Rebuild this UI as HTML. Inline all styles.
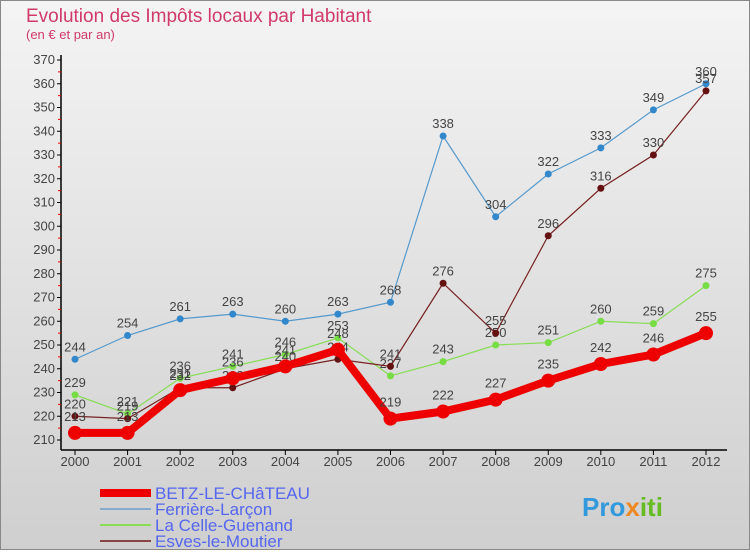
<!DOCTYPE html>
<html><head><meta charset="utf-8"><style>
body{margin:0;width:750px;height:550px;overflow:hidden;font-family:"Liberation Sans",sans-serif}
</style></head><body>
<svg width="750" height="550" xmlns="http://www.w3.org/2000/svg">
<defs><linearGradient id="bg" x1="0" y1="0" x2="0" y2="1"><stop offset="0" stop-color="#f4f4f4"/><stop offset="1" stop-color="#cfcfcf"/></linearGradient></defs>
<rect x="0.5" y="0.5" width="749" height="549" fill="url(#bg)" stroke="#888"/>
<text x="26" y="22" font-size="19" fill="#d03a6a" font-weight="normal">Evolution des Impôts locaux par Habitant</text>
<text x="26" y="39" font-size="13" fill="#d03a6a">(en € et par an)</text>
<g id="axes"></g><g id="plot"></g><g id="legend"></g>
<text x="582" y="516" font-size="26" font-weight="bold" fill="#3399dd">Pro<tspan fill="#ee8822">x</tspan><tspan fill="#66bb22">iti</tspan></text>
</svg>
<script>
const years=["2000","2001","2002","2003","2004","2005","2006","2007","2008","2009","2010","2011","2012"];
const yTicks=[210,220,230,240,250,260,270,280,290,300,310,320,330,340,350,360,370];
const betz=[213,213,231,236,241,248,219,222,227,235,242,246,255];
const ferriere=[244,254,261,263,260,263,268,338,304,322,333,349,360];
const lacelle=[229,221,236,241,246,253,237,243,250,251,260,259,275];
const esves=[220,219,232,232,240,244,241,276,255,296,316,330,357];
const NS="http://www.w3.org/2000/svg";
const X=i=>75+i*(706-75)/12, Y=v=>440-(v-210)*380/160;
function mk(t,a,p){const e=document.createElementNS(NS,t);for(const k in a)e.setAttribute(k,a[k]);p.appendChild(e);return e;}
const ax=document.getElementById('axes');
let l=mk('line',{x1:61,y1:55,x2:61,y2:450,stroke:'#000','stroke-width':1.5},ax);


l=mk('line',{x1:61,y1:450,x2:727,y2:450,stroke:'#000','stroke-width':1.5},ax);


yTicks.forEach((v,i)=>{
 mk('line',{x1:57,y1:Y(v),x2:61,y2:Y(v),stroke:'#000'},ax);
 if(i<yTicks.length-1) mk('line',{x1:58,y1:Y(v+5),x2:61,y2:Y(v+5),stroke:'#e00'},ax);
 const t=mk('text',{x:55,y:Y(v)+4,'font-size':13,'text-anchor':'end',fill:'#444'},ax);t.textContent=v;
 
 
});
years.forEach((y,i)=>{
 mk('line',{x1:X(i),y1:450,x2:X(i),y2:455,stroke:'#000'},ax);
 const t=mk('text',{x:X(i),y:466,'font-size':13,'text-anchor':'middle',fill:'#444'},ax);t.textContent=y;
 
 
});
const pl=document.getElementById('plot');
const series=[
 {n:'ferriere',d:ferriere,c:'#5599cc',w:1.2,r:3.5,f:'#3388cc'},
 {n:'lacelle',d:lacelle,c:'#88dd55',w:1.2,r:3.5,f:'#77dd44'},
 {n:'esves',d:esves,c:'#772222',w:1.2,r:3.5,f:'#661111'},
 {n:'betz',d:betz,c:'#ee0000',w:8,r:7,f:'#ee0000'}];
series.forEach(s=>{
 const g=mk('g',{},pl);
 
 
 const p=mk('polyline',{points:s.d.map((v,i)=>X(i)+','+Y(v)).join(' '),fill:'none',stroke:s.c,'stroke-width':s.w},g);
 
 
 s.d.forEach((v,i)=>{
  const c=mk('circle',{cx:X(i),cy:Y(v),r:s.r,fill:s.f},g);
  
  
  const t=mk('text',{x:X(i),y:Y(v)-(s.n=='betz'?12:8),'font-size':13,'text-anchor':'middle',fill:'#444'},g);t.textContent=v;
  
  
 });
});
const lg=document.getElementById('legend');
const items=[['BETZ-LE-CHâTEAU','#ee0000',8],['Ferrière-Larçon','#88aacc',2],['La Celle-Guenand','#88dd55',2],['Esves-le-Moutier','#884444',2]];
items.forEach((it,i)=>{
 const y=493+i*16;
 const g=mk('g',{},lg);
 
 
 mk('line',{x1:100,y1:y,x2:151,y2:y,stroke:it[1],'stroke-width':it[2]},g);
 const t=mk('text',{x:155,y:y+6,'font-size':17,fill:'#5566ee'},g);t.textContent=it[0];
});
</script>
</body></html>
